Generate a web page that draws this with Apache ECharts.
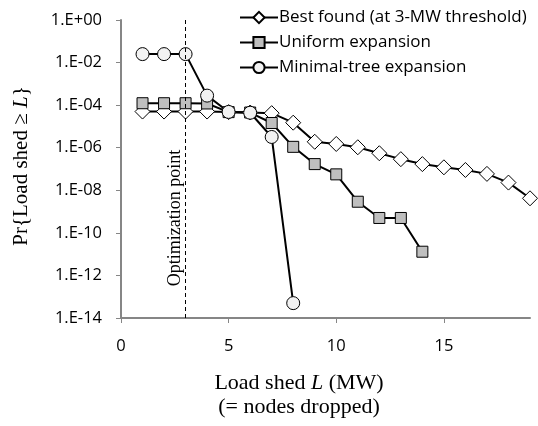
<!DOCTYPE html>
<html>
<head>
<meta charset="utf-8">
<script src="https://cdn.jsdelivr.net/npm/echarts@6/dist/echarts.min.js"></script>
<style>
  html, body { margin: 0; padding: 0; background: #fff; }
  #chart { width: 538px; height: 426px; }
</style>
</head>
<body>
<div id="chart"></div>
<script>
  // load shed L (MW)
  var loadShed = [1, 2, 3, 4, 5, 6, 7, 8, 9, 10, 11, 12, 13, 14, 15, 16, 17, 18, 19];
  var bestFound = [5e-5, 5e-5, 5e-5, 5e-5, 4.7e-5, 4.5e-5, 4.2e-5, 1.5e-5, 1.9e-6, 1.5e-6,
                   1.05e-6, 5.5e-7, 2.9e-7, 1.7e-7, 1.2e-7, 9e-8, 5.9e-8, 2.3e-8, 4.2e-9];
  var uniform = [1.23e-4, 1.23e-4, 1.23e-4, 1.2e-4, 4.7e-5, 4.5e-5, 1.45e-5, 1.1e-6, 1.7e-7,
                 5.6e-8, 2.9e-9, 5e-10, 5e-10, 1.3e-11];
  var minimalTree = [0.025, 0.025, 0.025, 2.8e-4, 4.8e-5, 4.4e-5, 3.2e-6, 5e-14];
  var seriesNames = ['Best found (at 3-MW threshold)', 'Uniform expansion', 'Minimal-tree expansion'];
  var xTicks = [0, 5, 10, 15];
  var optimizationPoint = 3;

  function pairs(vals) {
    return vals.map(function (v, i) { return [loadShed[i], v]; });
  }

  var chart = echarts.init(document.getElementById('chart'));
  var axisGray = '#868686';
  var sans = '"Open Sans", Lato, sans-serif';
  var serif = '"Liberation Serif", "DejaVu Serif", serif';

  var option = {
    animation: false,
    grid: { left: 121, right: 8, top: 20, bottom: 108 },
    legend: {
      orient: 'vertical',
      left: 234,
      top: 4,
      itemWidth: 38,
      itemHeight: 14,
      itemGap: 8,
      textStyle: { fontFamily: sans, fontSize: 17, color: '#000', padding: [0, 0, 0, -4] },
      data: seriesNames
    },
    xAxis: {
      type: 'value',
      min: 0,
      max: 19,
      interval: 5,
      axisLine: { lineStyle: { color: axisGray, width: 2 } },
      axisTick: { show: true, length: 5, customValues: xTicks, lineStyle: { color: axisGray, width: 1 } },
      axisLabel: { fontFamily: sans, fontSize: 16.5, color: '#000', margin: 20, customValues: xTicks },
      splitLine: { show: false }
    },
    yAxis: {
      type: 'log',
      logBase: 10,
      min: 1e-14,
      max: 1,
      interval: 2,
      axisLine: { show: true, lineStyle: { color: axisGray, width: 2 } },
      axisTick: { show: true, length: 5, lineStyle: { color: axisGray, width: 1 } },
      axisLabel: {
        fontFamily: sans, fontSize: 16.5, color: '#000', margin: 19,
        formatter: function (v) {
          var e = Math.round(Math.log10(v));
          return '1.E' + (e < 0 ? '-' : '+') + String(Math.abs(e)).padStart(2, '0');
        }
      },
      splitLine: { show: false }
    },
    series: [
      {
        name: seriesNames[0],
        type: 'line',
        data: pairs(bestFound),
        symbol: 'diamond',
        symbolSize: 15,
        lineStyle: { color: '#000', width: 2 },
        itemStyle: { color: '#fff', borderColor: '#000', borderWidth: 1 },
        markLine: {
          silent: true,
          symbol: 'none',
          label: { show: false },
          lineStyle: { color: '#000', type: [4, 3], width: 1 },
          data: [{ xAxis: optimizationPoint }]
        }
      },
      {
        name: seriesNames[1],
        type: 'line',
        data: pairs(uniform),
        symbol: 'rect',
        symbolSize: 11,
        lineStyle: { color: '#000', width: 2 },
        itemStyle: { color: '#bfbfbf', borderColor: '#000', borderWidth: 1 }
      },
      {
        name: seriesNames[2],
        type: 'line',
        data: pairs(minimalTree),
        symbol: 'circle',
        symbolSize: 13,
        lineStyle: { color: '#000', width: 2 },
        itemStyle: { color: '#f2f2f2', borderColor: '#000', borderWidth: 1 }
      }
    ],
    graphic: [
      {
        type: 'text',
        x: 299, y: 383,
        style: {
          text: 'Load shed {i|L} (MW)',
          font: '22px ' + serif,
          fill: '#000',
          align: 'center',
          verticalAlign: 'middle',
          rich: { i: { fontStyle: 'italic', fontFamily: serif, fontSize: 22 } }
        }
      },
      {
        type: 'text',
        x: 299, y: 407,
        style: {
          text: '(= nodes dropped)',
          font: '22px ' + serif,
          fill: '#000',
          align: 'center',
          verticalAlign: 'middle'
        }
      },
      {
        type: 'text',
        x: 21, y: 166,
        rotation: Math.PI / 2,
        style: {
          text: 'Pr{Load shed \u2265 {i|L}}',
          font: '21px ' + serif,
          fill: '#000',
          align: 'center',
          verticalAlign: 'middle',
          rich: { i: { fontStyle: 'italic', fontFamily: serif, fontSize: 21 } }
        }
      },
      {
        type: 'text',
        x: 175, y: 218,
        rotation: Math.PI / 2,
        style: {
          text: 'Optimization point',
          font: '18px ' + serif,
          fill: '#000',
          align: 'center',
          verticalAlign: 'middle'
        }
      }
    ]
  };
  chart.setOption(option);
  window.onresize = function () {
    chart.resize();
  };
</script>
</body>
</html>
